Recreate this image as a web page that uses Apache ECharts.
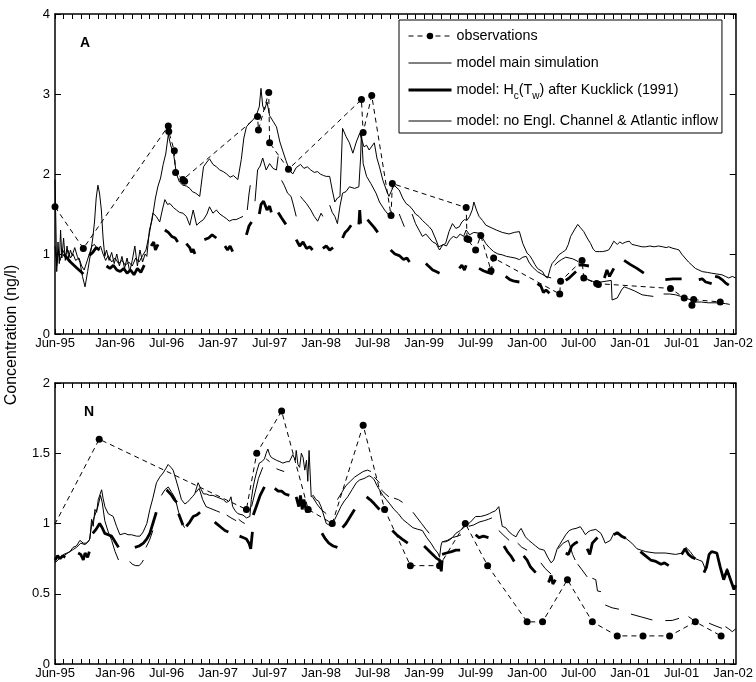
<!DOCTYPE html>
<html>
<head>
<meta charset="utf-8">
<script src="https://cdn.jsdelivr.net/npm/echarts@6/dist/echarts.min.js"></script>
<style>
  html, body { margin: 0; padding: 0; background: #fff; }
  #chart { width: 756px; height: 682px; }
</style>
</head>
<body>
<div id="chart"></div>
<script>
// Time is measured in months since 1 June 1995.
const tickMonths = [0, 7, 13, 19, 25, 31, 37, 43, 49, 55, 61, 67, 73, 79];
const tickLabels = ['Jun-95', 'Jan-96', 'Jul-96', 'Jan-97', 'Jul-97', 'Jan-98', 'Jul-98',
                    'Jan-99', 'Jul-99', 'Jan-00', 'Jul-00', 'Jan-01', 'Jul-01', 'Jan-02'];

const NAME_OBS = 'observations';
const NAME_MAIN = 'model main simulation';
const NAME_KUCK = 'model: Hc(Tw) after Kucklick (1991)';
const NAME_NOEC = 'model: no Engl. Channel & Atlantic inflow';

// ---------- Station A ----------
const obsA = [[0.0,1.59],[3.3,1.07],[13.2,2.6],[13.25,2.53],[13.9,2.29],[14.05,2.02],[14.9,1.93],[15.1,1.91],
  [23.6,2.72],[23.7,2.55],[24.9,3.02],[25.0,2.39],[27.2,2.06],[35.7,2.93],[35.9,2.52],[36.9,2.98],
  [39.15,1.48],[39.3,1.88],[47.9,1.58],[48.0,1.19],[48.2,1.18],[49.0,1.05],[49.6,1.23],[50.8,0.79],
  [51.1,0.95],[58.8,0.50],[58.9,0.66],[61.4,0.92],[61.6,0.70],[63.1,0.63],[63.3,0.62],[71.7,0.57],
  [73.3,0.45],[74.2,0.36],[74.4,0.43],[77.5,0.40]];

const mainA = [[0.0,1.93],[0.1,1.4],[0.2,0.78],[0.35,1.15],[0.5,0.88],[0.65,1.3],[0.8,0.95],[1.0,1.2],
  [1.2,0.92],[1.4,1.1],[1.6,0.95],[1.8,1.05],[2.0,0.98],[2.3,1.08],[2.6,0.97],[2.9,0.9],[3.2,0.72],
  [3.5,0.59],[3.8,0.78],[4.1,0.98],[4.4,1.2],[4.6,1.4],[4.8,1.7],[5.0,1.86],[5.2,1.75],[5.4,1.55],
  [5.6,1.2],[5.8,0.97],[6.0,1.05],[6.3,0.92],[6.6,1.02],[6.9,0.88],[7.2,1.0],[7.5,0.85],[7.8,0.97],
  [8.1,0.82],[8.4,0.95],[8.7,0.78],[9.0,0.92],[9.3,1.1],[9.6,0.85],[9.9,1.05],[10.2,0.9],[10.5,1.0],
  [10.7,0.97],[11.0,1.3],[11.3,1.42],[11.7,1.7],[12.0,1.85],[12.3,1.95],[12.6,2.12],[12.9,2.25],
  [13.2,2.49],[13.5,2.35],[13.8,2.26],[14.15,2.0],[14.5,1.9],[14.9,1.86],[15.3,1.85],[15.7,1.82],
  [16.0,1.78],[16.4,1.76],[16.86,1.72],[17.3,2.09],[17.7,2.15],[18.0,2.19],[18.4,2.12],[18.8,2.09],
  [19.2,2.05],[19.6,2.03],[20.0,2.0],[20.4,1.96],[20.8,1.98],[21.3,1.93],[21.7,2.18],[22.0,2.45],
  [22.3,2.59],[22.7,2.64],[23.1,2.68],[23.5,2.75],[23.8,2.84],[24.0,3.07],[24.2,2.85],[24.4,2.8],
  [24.7,2.9],[25.0,2.73],[25.4,2.66],[25.8,2.59],[26.2,2.4],[26.5,2.3],[26.9,2.17],[27.3,2.05],
  [27.7,2.0],[28.1,2.08],[28.6,2.12],[29.0,2.07],[29.4,2.09],[29.8,2.05],[30.2,2.02],[30.6,2.03],
  [30.9,2.0],[31.3,1.98],[31.6,1.97],[32.0,1.97],[32.3,1.8],[32.6,1.65],[32.9,1.7],[33.2,1.72],
  [33.5,2.57],[33.9,2.47],[34.3,2.39],[34.7,2.26],[35.1,2.4],[35.5,2.51],[36.0,2.34],[36.3,2.36],
  [36.6,2.3],[37.2,2.39],[37.5,2.2],[37.8,2.09],[38.2,1.92],[38.6,1.8],[38.9,1.72],[39.5,1.86],
  [40.1,1.8],[40.5,1.7],[40.9,1.63],[41.3,1.6],[41.7,1.55],[42.0,1.5],[42.4,1.47],[42.8,1.42],
  [43.2,1.38],[43.6,1.34],[43.9,1.3],[44.3,1.2],[44.7,1.09],[45.1,1.11],[45.5,1.13],[45.9,1.28],
  [46.3,1.38],[46.7,1.32],[47.1,1.34],[47.4,1.4],[47.7,1.43],[48.0,1.42],[48.3,1.47],[48.6,1.55],
  [48.8,1.65],[49.1,1.55],[49.4,1.47],[49.8,1.42],[50.2,1.36],[50.8,1.33],[51.4,1.3],[52.1,1.27],
  [52.9,1.25],[53.5,1.27],[54.1,1.28],[54.5,1.13],[55.0,1.01],[55.3,0.98],[55.6,0.93],[55.9,0.87],
  [56.2,0.82],[56.5,0.8],[56.8,0.78],[57.1,0.72],[57.4,0.70],[57.7,0.82],[57.9,0.88],[58.3,0.93],
  [58.7,0.99],[59.1,1.02],[59.5,1.05],[59.8,1.12],[60.07,1.22],[60.5,1.3],[60.9,1.37],[61.2,1.33],
  [61.6,1.28],[62.0,1.2],[62.4,1.13],[62.7,1.06],[63.0,1.03],[63.4,1.03],[63.8,1.03],[64.2,1.04],
  [64.5,1.05],[64.8,1.1],[65.1,1.16],[65.5,1.12],[65.8,1.15],[66.1,1.13],[66.5,1.15],[66.9,1.16],
  [67.2,1.12],[67.6,1.11],[68.0,1.1],[68.4,1.09],[68.8,1.09],[69.3,1.1],[69.8,1.09],[70.3,1.1],
  [70.8,1.09],[71.2,1.08],[71.5,1.09],[72.0,1.07],[72.4,1.06],[72.7,1.05],[73.0,1.0],[73.4,0.95],
  [73.8,0.9],[74.2,0.86],[74.6,0.82],[75.0,0.8],[75.4,0.78],[76.0,0.77],[76.5,0.76],[77.1,0.75],
  [77.7,0.74],[78.1,0.72],[78.5,0.70],[78.9,0.72],[79.3,0.70]];

// Kucklick run: pieces of record, gaps in between
const kuckA = [
  [[1.0,1.0],[1.4,0.95],[1.8,0.9],[2.2,0.86],[2.6,0.82],[3.0,0.78],[3.3,0.75]],
  [[4.0,0.98],[4.4,1.02],[4.8,1.08],[5.2,1.05]],
  [[6.0,0.85],[6.4,0.82],[6.8,0.86],[7.2,0.8],[7.6,0.78],[8.0,0.82],[8.4,0.76],[8.8,0.8],[9.2,0.74],
   [9.6,0.82],[10.0,0.77],[10.4,0.86]],
  [[11.2,1.1],[11.5,1.15],[11.7,1.05],[12.0,1.12]],
  [[12.8,1.3],[13.2,1.27],[13.6,1.22],[14.0,1.2],[14.3,1.15]],
  [[15.3,1.13],[15.7,1.08],[15.9,1.02],[16.1,1.06],[16.3,1.0]],
  [[17.4,1.18],[17.9,1.2],[18.3,1.24],[18.8,1.2]],
  [[19.8,1.1],[20.1,1.05],[20.4,1.1],[20.7,1.03]],
  [[22.3,1.24],[22.6,1.35],[22.9,1.4]],
  [[23.8,1.5],[24.0,1.62],[24.3,1.66],[24.7,1.55],[25.0,1.6],[25.2,1.52]],
  [[26.0,1.52],[26.4,1.45],[26.9,1.37]],
  [[28.1,1.18],[28.5,1.1],[28.9,1.15],[29.3,1.07],[29.7,1.09],[30.0,1.05]],
  [[31.2,1.07],[31.6,1.1],[32.0,1.05],[32.4,1.08]],
  [[33.5,1.2],[33.8,1.27],[34.1,1.3],[34.5,1.36]],
  [[35.4,1.37],[35.5,1.55],[35.6,1.38]],
  [[36.4,1.43],[36.8,1.38],[37.2,1.33],[37.6,1.27]],
  [[39.1,1.05],[39.6,1.0],[40.1,0.98],[40.6,0.93],[41.0,0.95],[41.3,0.9]],
  [[43.2,0.88],[43.6,0.84],[44.0,0.8],[44.4,0.78],[44.8,0.76]],
  [[47.1,0.82],[47.4,0.86],[47.7,0.8],[47.9,0.86]],
  [[49.4,0.82],[49.9,0.79],[50.4,0.77],[51.0,0.75]],
  [[52.5,0.72],[53.0,0.68],[53.5,0.66],[54.1,0.65]],
  [[56.2,0.63],[56.6,0.6],[56.9,0.52],[57.2,0.55],[57.6,0.51]],
  [[59.5,0.67],[59.9,0.7],[60.3,0.74],[60.7,0.78]],
  [[61.0,0.86],[61.6,0.86],[62.2,0.85]],
  [[64.0,0.7],[64.3,0.8],[64.6,0.72],[65.1,0.82]],
  [[66.3,0.92],[67.0,0.87],[67.8,0.82],[68.6,0.76]],
  [[71.1,0.68],[72.0,0.69],[73.0,0.69]],
  [[75.0,0.68],[75.4,0.69],[75.8,0.65],[76.5,0.63]],
  [[76.9,0.72],[77.3,0.71],[77.7,0.68],[78.1,0.64],[78.5,0.61]]
];

const noecA = [
  [[0.0,1.1],[0.2,0.85],[0.4,1.05],[0.6,0.92],[0.9,1.05],[1.2,0.98],[1.5,1.05],[1.8,0.95],[2.1,1.0],
   [2.4,0.92],[2.8,0.95],[3.1,0.85],[3.4,0.8],[3.7,0.9],[4.0,1.0],[4.3,1.1],[4.6,1.12],[5.0,1.05],
   [5.3,1.1],[5.6,1.0],[5.9,0.92],[6.2,0.98],[6.6,0.9],[7.0,0.95],[7.4,0.88],[7.8,0.92],[8.2,0.86],
   [8.6,0.9],[9.0,0.85],[9.4,0.95],[9.8,0.9],[10.2,0.98],[10.6,1.05],[11.0,1.26],[11.4,1.51],
   [11.8,1.47],[12.2,1.4],[12.5,1.55],[12.8,1.68],[13.1,1.62],[13.4,1.63],[13.8,1.58],[14.15,1.55],
   [14.5,1.52],[14.9,1.51],[15.3,1.47],[15.7,1.36],[16.1,1.55],[16.5,1.36],[16.9,1.4],[17.3,1.43],
   [17.7,1.5],[18.0,1.59],[18.4,1.51],[18.8,1.55],[19.2,1.5],[19.6,1.47],[20.0,1.44],[20.3,1.41],
   [20.7,1.43],[21.1,1.43],[21.5,1.45],[21.9,1.47]],
  [[22.4,1.55],[22.6,1.75],[22.75,1.86]],
  [[23.3,1.66],[23.6,2.05],[23.9,2.1],[24.2,2.2],[24.6,2.05],[25.0,2.13],[25.4,2.07],[25.8,2.05],[26.0,2.22]],
  [[26.4,1.92],[26.7,1.86],[27.1,1.76],[27.5,1.72],[27.8,1.6],[28.1,1.47]],
  [[28.6,1.72],[28.9,1.68],[29.3,1.63],[29.8,1.55],[30.2,1.47],[30.6,1.41],[31.0,1.51],[31.2,1.47]],
  [[32.0,1.61],[32.3,1.52],[32.6,1.47],[32.9,1.38],[33.2,1.6],[33.5,1.76],[33.9,1.78],[34.3,1.84],
   [34.9,1.82],[35.4,1.84],[35.6,2.2],[35.7,2.53],[35.9,2.13],[36.3,1.97],[36.8,1.88],[37.4,1.76],
   [37.8,1.65],[38.4,1.55],[39.0,1.47],[39.4,1.51]],
  [[40.1,1.5],[40.4,1.42],[40.7,1.34]],
  [[41.6,1.5],[42.0,1.38],[42.4,1.3],[42.8,1.22],[43.2,1.25],[43.6,1.2],[44.0,1.15],[44.4,1.13],
   [44.8,1.05],[45.2,1.12],[45.6,1.1],[46.0,1.18],[46.4,1.22],[46.8,1.2],[47.2,1.25],[47.6,1.22],
   [47.9,1.3],[48.3,1.24],[48.8,1.27],[49.4,1.26],[49.8,1.2],[50.2,1.13],[50.6,1.08],[51.1,1.03],
   [51.6,1.0],[52.1,0.99],[52.6,0.97],[53.1,0.96],[53.6,0.95],[54.1,0.93],[54.5,0.96],[54.9,0.97],
   [55.2,0.9],[55.6,0.84],[55.9,0.81],[56.2,0.78],[56.7,0.75],[57.2,0.72],[57.8,0.70]],
  [[58.2,0.86],[58.6,0.9],[59.0,0.93],[59.5,0.96],[59.9,0.95],[60.3,0.94],[60.7,0.92],[61.0,0.9]],
  [[61.7,0.72],[62.1,0.68],[62.6,0.66],[63.1,0.64],[63.6,0.65],[64.2,0.66],[64.8,0.67],[64.9,0.425],
   [65.5,0.45],[66.0,0.55],[66.3,0.59],[66.8,0.57],[67.5,0.54],[68.4,0.49],[69.0,0.48],[69.7,0.47]],
  [[70.9,0.50],[71.6,0.5],[72.3,0.49],[72.9,0.47],[73.4,0.45],[74.0,0.43],[74.6,0.40],[75.3,0.40],
   [76.1,0.39],[77.0,0.39],[78.1,0.38],[78.6,0.37]]
];

// ---------- Station N ----------
const obsN = [[-1.0,0.88],[5.15,1.6],[22.3,1.1],[23.5,1.5],[26.4,1.8],[29.5,1.1],[32.3,1.0],[35.9,1.7],
  [38.4,1.1],[41.4,0.7],[44.8,0.7],[47.8,1.0],[50.4,0.7],[55.0,0.3],[56.8,0.3],[59.7,0.6],[62.6,0.3],
  [65.5,0.2],[68.5,0.2],[71.6,0.2],[74.6,0.3],[77.6,0.2]];

const mainN = [[0,0.73],[0.3,0.76],[0.6,0.75],[1.0,0.78],[1.4,0.79],[1.74,0.80],[2.1,0.83],[2.5,0.84],
  [2.9,0.88],[3.3,0.86],[3.7,0.86],[4.07,0.89],[4.26,1.03],[4.45,0.98],[4.65,1.1],[4.85,1.08],
  [5.04,1.17],[5.43,1.24],[5.6,1.18],[5.81,1.12],[6.2,1.07],[6.5,1.06],[6.78,1.05],[7.17,0.98],
  [7.56,0.92],[8.14,0.93],[8.5,0.92],[8.91,0.92],[9.5,0.91],[9.9,0.91],[10.27,0.94],[10.7,1.0],
  [11.05,1.1],[11.4,1.18],[11.82,1.29],[12.2,1.33],[12.6,1.36],[12.9,1.39],[13.18,1.42],[13.5,1.40],
  [13.76,1.38],[14.1,1.31],[14.34,1.26],[14.73,1.17],[15.12,1.14],[15.4,1.15],[15.7,1.17],[16.0,1.19],
  [16.28,1.21],[16.67,1.29],[17.05,1.24],[17.3,1.21],[17.64,1.21],[18.0,1.2],[18.4,1.2],[18.8,1.19],
  [19.2,1.18],[19.6,1.17],[19.96,1.15],[20.3,1.16],[20.5,1.19],[20.7,1.12],[21.0,1.09],[21.3,1.07],
  [21.9,1.06],[22.3,1.04],[22.7,1.05],[22.87,1.17],[23.06,1.25],[23.26,1.31],[23.5,1.37],[23.8,1.43],
  [24.1,1.44],[24.4,1.46],[24.6,1.5],[24.8,1.53],[25.0,1.49],[25.2,1.47],[25.5,1.46],[25.8,1.45],
  [26.2,1.44],[26.55,1.43],[27.0,1.44],[27.3,1.44],[27.7,1.49],[28.0,1.45],[28.1,1.52],[28.3,1.42],
  [28.5,1.40],[28.7,1.5],[28.9,1.47],[29.1,1.38],[29.3,1.45],[29.45,1.3],[29.6,1.52],[29.85,1.19],
  [30.1,1.2],[30.4,1.17],[30.7,1.16],[31.0,1.12],[31.3,1.06],[31.6,1.0],[31.9,0.99],[32.2,0.98],
  [32.6,1.03],[33.0,1.08],[33.3,1.12],[33.7,1.16],[34.1,1.19],[34.6,1.24],[35.1,1.29],[35.5,1.31],
  [36.0,1.32],[36.3,1.33],[36.6,1.34],[36.9,1.33],[37.2,1.31],[37.5,1.27],[37.8,1.24],[38.2,1.2],
  [38.6,1.17],[39.0,1.14],[39.5,1.10],[40.0,1.07],[40.5,1.03],[41.1,1.0],[41.7,0.97],[42.2,0.96],
  [42.8,0.95],[43.3,0.9],[43.8,0.86],[44.2,0.82],[44.6,0.79],[44.8,0.76],[44.96,0.84],[45.1,0.87],
  [45.5,0.87],[45.9,0.88],[46.3,0.9],[46.7,0.93],[47.2,0.95],[47.8,0.98],[48.4,1.01],[49.0,1.05],
  [49.6,1.05],[50.2,1.06],[50.6,1.07],[50.9,1.08],[51.3,1.09],[51.7,1.12],[52.1,0.98],[52.5,0.97],
  [52.9,0.94],[53.3,0.92],[53.7,0.905],[54.0,0.94],[54.3,0.965],[54.8,0.905],[55.2,0.88],[55.6,0.86],
  [56.0,0.84],[56.4,0.82],[57.0,0.81],[57.4,0.76],[57.8,0.72],[58.1,0.74],[58.5,0.82],[58.8,0.85],
  [59.1,0.88],[59.5,0.92],[59.9,0.95],[60.3,0.96],[60.7,0.965],[61.2,0.977],[61.5,0.95],[61.8,0.92],
  [62.1,0.94],[62.4,0.95],[63.0,0.958],[63.6,0.93],[63.9,0.89],[64.1,0.86],[64.7,0.88],[65.1,0.93],
  [65.7,0.92],[66.1,0.91],[66.5,0.895],[67.2,0.86],[67.8,0.82],[68.3,0.81],[68.8,0.80],[69.9,0.79],
  [71.1,0.79],[72.3,0.78],[73.1,0.79],[73.5,0.83],[74.0,0.80],[74.6,0.75],[75.0,0.74],[75.4,0.73],
  [75.8,0.67],[76.2,0.78],[76.6,0.80],[77.1,0.79],[77.5,0.69],[77.9,0.62],[78.3,0.68],[78.7,0.60],
  [79.1,0.54],[79.3,0.55]];

const kuckN = [
  [[0.0,0.74],[0.3,0.77],[0.6,0.75],[0.9,0.77],[1.2,0.76]],
  [[2.7,0.79],[3.0,0.78],[3.3,0.74],[3.5,0.79],[3.8,0.76],[4.0,0.80]],
  [[4.4,0.93],[4.8,0.96],[5.2,1.0],[5.5,0.97],[5.8,0.93],[6.2,0.92],[6.6,0.91],[7.0,0.87],[7.4,0.83]],
  [[9.3,0.83],[9.8,0.84],[10.3,0.86],[10.7,0.89],[11.05,0.93],[11.4,1.0],[11.8,1.08]],
  [[13.0,1.24],[13.3,1.22],[13.6,1.2],[13.9,1.17],[14.2,1.15]],
  [[14.4,1.07],[14.9,0.99]],
  [[15.3,0.98],[15.7,1.01],[16.1,1.05],[16.5,1.06],[16.9,1.08]],
  [[18.6,1.01],[19.0,0.99],[19.4,0.97],[19.8,0.95],[20.2,0.94]],
  [[21.5,0.91],[21.9,0.9],[22.3,0.89],[22.6,0.86],[22.8,0.82],[23.0,0.94]],
  [[23.1,1.06],[23.5,1.13],[23.9,1.2],[24.4,1.26]],
  [[25.6,1.25],[26.0,1.23],[26.4,1.23],[26.8,1.21],[27.3,1.2]],
  [[28.1,1.19],[28.4,1.12],[28.6,1.2],[28.8,1.1],[29.0,1.17],[29.3,1.08],[29.6,1.12]],
  [[31.1,0.93],[31.5,0.89],[31.9,0.86],[32.4,0.84],[32.9,0.83]],
  [[33.5,0.97],[33.9,1.0],[34.4,1.05],[34.9,1.1]],
  [[36.3,1.19],[36.7,1.17],[37.2,1.14],[37.8,1.1]],
  [[39.3,0.95],[39.8,0.92],[40.4,0.89],[41.1,0.86]],
  [[43.0,0.84],[43.5,0.81],[44.0,0.78],[44.5,0.75],[44.8,0.74],[45.0,0.66],[45.1,0.74]],
  [[45.1,0.78],[45.6,0.79],[46.2,0.8],[46.7,0.81],[47.2,0.81]],
  [[49.0,0.92],[49.4,0.9],[49.9,0.91],[50.5,0.9]],
  [[52.3,0.84],[52.7,0.8],[53.1,0.77],[53.5,0.73]],
  [[54.6,0.77],[55.0,0.74],[55.4,0.69],[56.0,0.65]],
  [[57.5,0.58],[57.8,0.63],[58.0,0.57],[58.3,0.6]],
  [[59.5,0.79],[59.8,0.78],[60.2,0.84],[60.6,0.86],[60.9,0.87]],
  [[62.0,0.82],[62.3,0.78],[62.6,0.86],[63.2,0.9]],
  [[65.1,0.92],[65.5,0.935],[66.0,0.91],[66.5,0.895]],
  [[68.2,0.80],[68.8,0.77],[69.4,0.74],[70.0,0.73],[70.6,0.71],[71.0,0.72],[71.5,0.70]],
  [[73.0,0.78],[73.4,0.82],[73.8,0.78],[74.2,0.76],[74.6,0.75]],
  [[75.6,0.65],[75.9,0.69],[76.2,0.78],[76.5,0.80],[77.1,0.79],[77.5,0.69],[77.9,0.60],[78.3,0.67],
   [78.7,0.6],[79.1,0.53],[79.3,0.56]]
];

const noecN = [
  [[0.0,0.72],[0.5,0.75],[1.0,0.77],[1.5,0.79],[2.0,0.81],[2.5,0.83],[3.0,0.86],[3.5,0.85],[4.0,0.88],
   [4.3,1.0],[4.6,1.05],[5.0,1.12],[5.3,1.2],[5.5,1.15],[5.8,1.02],[6.2,0.94],[6.6,0.88],[7.0,0.80],[7.4,0.74]],
  [[8.7,0.73],[9.0,0.71],[9.4,0.70],[9.8,0.70],[10.1,0.72],[10.3,0.74]],
  [[10.6,0.83],[11.0,0.88],[11.4,0.95]],
  [[12.4,1.2],[12.8,1.24],[13.2,1.26],[13.6,1.22],[14.0,1.18],[14.4,1.08],[14.8,1.0],[15.1,0.97]],
  [[16.4,1.22],[16.8,1.25],[17.2,1.17],[17.6,1.12],[18.0,1.11],[18.4,1.1],[18.8,1.09],[19.2,1.08]],
  [[20.0,1.06],[20.5,1.04],[21.1,1.02]],
  [[21.4,1.03],[21.8,1.01],[22.1,1.0]],
  [[22.9,1.12],[23.3,1.22],[23.7,1.32],[24.2,1.40]],
  [[24.6,1.46],[25.0,1.44]],
  [[25.8,1.39],[26.2,1.38],[26.7,1.37]],
  [[30.0,1.19],[30.5,1.14],[31.0,1.1],[31.6,1.07]],
  [[32.9,1.17],[33.4,1.22],[33.9,1.27],[34.4,1.3],[34.9,1.33],[35.4,1.35],[35.9,1.37],[36.4,1.38],[36.8,1.37]],
  [[37.2,1.33],[37.8,1.29]],
  [[38.0,1.24],[38.5,1.21],[38.9,1.19]],
  [[39.5,1.18],[40.0,1.17],[40.5,1.15]],
  [[41.7,1.08],[42.2,1.04],[42.7,1.0],[43.2,0.96],[43.6,0.93]],
  [[45.2,0.87],[45.7,0.88],[46.3,0.9],[46.9,0.91],[47.3,0.92]],
  [[48.2,0.98],[48.8,0.99],[49.4,1.01],[50.0,1.02],[50.5,1.03],[50.9,1.04]],
  [[51.7,0.95],[52.2,0.92],[52.9,0.88]],
  [[53.9,0.86],[54.4,0.83],[55.0,0.81]],
  [[56.6,0.72],[57.1,0.68],[57.8,0.64]],
  [[58.6,0.82],[59.2,0.86],[59.8,0.88],[60.3,0.78],[60.6,0.74]],
  [[60.9,0.71],[61.4,0.67],[62.0,0.62]],
  [[62.6,0.61],[63.0,0.60],[63.2,0.52],[63.6,0.515]],
  [[64.1,0.42],[64.9,0.40],[65.7,0.39]],
  [[67.1,0.355],[68.3,0.335],[69.6,0.313]],
  [[71.1,0.309],[71.9,0.31],[72.7,0.325]],
  [[73.8,0.337],[74.2,0.32],[74.6,0.30]],
  [[76.2,0.29],[77.0,0.27],[77.7,0.254]],
  [[78.1,0.266],[78.5,0.25],[78.9,0.23],[79.3,0.25]]
];

// ---------- chart ----------
const FONT = '"Liberation Sans", Arial, Helvetica, sans-serif';
const X_MAX = 79.3;
const W_THIN = 1;
const W_THICK = 2.8;

// join record pieces into one list, broken by empty points
function joinPieces(pieces) {
  const out = [];
  pieces.forEach((p, i) => {
    if (i > 0) out.push(['-', '-']);
    p.forEach(pt => out.push(pt));
  });
  return out;
}

function monthLabel(v) {
  const r = Math.round(v);
  if (Math.abs(v - r) > 1e-6) return '';
  const i = tickMonths.indexOf(r);
  return i >= 0 ? tickLabels[i] : '';
}

function xAxes(gridIndex) {
  const common = {
    type: 'value', gridIndex, min: 0, max: X_MAX, interval: 1,
    splitLine: { show: false },
    axisLine: { show: true, onZero: false, lineStyle: { color: '#000', width: 1.5 } },
    axisTick: { show: true, inside: true, length: 5, lineStyle: { color: '#000', width: 1 } }
  };
  return [
    Object.assign({}, common, {
      position: 'bottom',
      axisLabel: { show: true, margin: 3, color: '#000', fontFamily: FONT, fontSize: 13,
                   formatter: monthLabel, showMaxLabel: false }
    }),
    Object.assign({}, common, { position: 'top', axisLabel: { show: false } })
  ];
}

function yAxes(gridIndex, max, step) {
  const common = {
    type: 'value', gridIndex, min: 0, max, interval: step,
    splitLine: { show: false },
    axisLine: { show: true, onZero: false, lineStyle: { color: '#000', width: 1.5 } },
    axisTick: { show: true, inside: true, length: 6, lineStyle: { color: '#000', width: 1 } }
  };
  return [
    Object.assign({}, common, {
      position: 'left',
      axisLabel: { show: true, margin: 5, color: '#000', fontFamily: FONT, fontSize: 13 }
    }),
    Object.assign({}, common, { position: 'right', axisLabel: { show: false } })
  ];
}

function panelSeries(idx, obs, main, kuck, noec) {
  const ax = { xAxisIndex: idx * 2, yAxisIndex: idx * 2 };
  const base = { type: 'line', animation: false, connectNulls: false, silent: true };
  return [
    Object.assign({}, base, ax, {
      name: NAME_MAIN, data: main, symbol: 'none', z: 2,
      lineStyle: { color: '#000', width: W_THIN }, itemStyle: { color: '#000' }
    }),
    Object.assign({}, base, ax, {
      name: NAME_NOEC, data: joinPieces(noec), symbol: 'none', z: 2,
      lineStyle: { color: '#000', width: W_THIN }, itemStyle: { color: '#000' }
    }),
    Object.assign({}, base, ax, {
      name: NAME_KUCK, data: joinPieces(kuck), symbol: 'none', z: 3,
      lineStyle: { color: '#000', width: W_THICK }, itemStyle: { color: '#000' }
    }),
    Object.assign({}, base, ax, {
      name: NAME_OBS, data: obs, symbol: 'circle', symbolSize: 7, z: 4,
      lineStyle: { color: '#000', width: 1, type: [5, 4] }, itemStyle: { color: '#000' }
    })
  ];
}

// legend entries for plain lines carry no marker
const noMarker = { color: 'rgba(0,0,0,0)', borderWidth: 0 };

const chart = echarts.init(document.getElementById('chart'), null, { renderer: 'canvas' });

chart.setOption({
  backgroundColor: '#fff',
  animation: false,
  textStyle: { fontFamily: FONT, color: '#000' },
  grid: [
    { left: 55, top: 14, width: 682, height: 320 },
    { left: 55, top: 383, width: 682, height: 281 }
  ],
  xAxis: xAxes(0).concat(xAxes(1)),
  yAxis: yAxes(0, 4, 1).concat(yAxes(1, 2, 0.5)),
  legend: {
    show: true, orient: 'vertical', left: 399, top: 20,
    backgroundColor: '#fff', borderColor: '#000', borderWidth: 1,
    padding: [9, 4, 5, 8], itemGap: 13, itemWidth: 43, itemHeight: 8,
    selectedMode: false,
    data: [
      { name: NAME_OBS, itemStyle: { color: '#000' }, lineStyle: { color: '#000', width: 1, type: [5, 4] } },
      { name: NAME_MAIN, itemStyle: noMarker, lineStyle: { color: '#000', width: W_THIN, type: 'solid' } },
      { name: NAME_KUCK, itemStyle: noMarker, lineStyle: { color: '#000', width: 3, type: 'solid' } },
      { name: NAME_NOEC, itemStyle: noMarker, lineStyle: { color: '#000', width: W_THIN, type: 'solid' } }
    ],
    textStyle: {
      fontFamily: FONT, fontSize: 14.3, color: '#000',
      rich: {
        n: { fontFamily: FONT, fontSize: 14.3, color: '#000', lineHeight: 22 },
        s: { fontFamily: FONT, fontSize: 10, color: '#000', lineHeight: 22, verticalAlign: 'bottom' }
      }
    },
    formatter: function (name) {
      if (name === NAME_KUCK) {
        return '{n|model: H}{s|c}{n|(T}{s|w}{n|) after Kucklick (1991)}';
      }
      return name;
    }
  },
  graphic: [
    { type: 'text', x: 12, y: 335, rotation: Math.PI / 2,
      style: { text: 'Concentration (ng/l)', font: '16px ' + FONT, fill: '#000',
               textAlign: 'center', textVerticalAlign: 'middle' } },
    { type: 'text', x: 80, y: 36,
      style: { text: 'A', font: 'bold 14px ' + FONT, fill: '#000' } },
    { type: 'text', x: 84, y: 405,
      style: { text: 'N', font: 'bold 14px ' + FONT, fill: '#000' } }
  ],
  series: panelSeries(0, obsA, mainA, kuckA, noecA)
          .concat(panelSeries(1, obsN, mainN, kuckN, noecN))
});
</script>
</body>
</html>
